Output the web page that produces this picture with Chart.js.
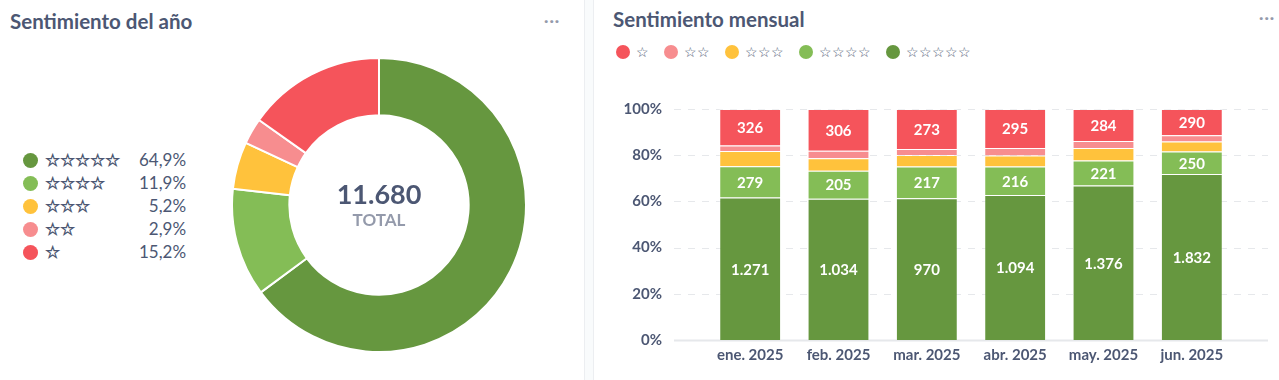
<!DOCTYPE html>
<html lang="es">
<head>
<meta charset="utf-8">
<script src="https://cdn.jsdelivr.net/npm/chart.js@4.4.0/dist/chart.umd.min.js"></script>
<style>
  html, body { margin: 0; padding: 0; }
  body {
    width: 1279px; height: 380px; overflow: hidden; position: relative;
    background: #f9fbfc; font-family: Lato, sans-serif; color: #4c5773;
  }
  .card { position: absolute; top: -2px; bottom: -2px; background: #fff; border: 1px solid #eceef1; box-sizing: border-box; }
  #cardYear { left: -2px; width: 587px; }
  #cardMonth { left: 593px; right: -2px; }
  .title { position: absolute; font-weight: 700; font-size: 20.5px; line-height: 24px; white-space: nowrap; }
  .more { position: absolute; color: #949aab; font-weight: 700; font-size: 16px; line-height: 10px; letter-spacing: 1px; }
  #legendYear { position: absolute; left: 23px; top: 148px; border-collapse: collapse; font-size: 17px; }
  #legendYear td { padding: 0; height: 23px; white-space: nowrap; }
  #legendYear .dot { display: inline-block; width: 15px; height: 15px; border-radius: 50%; vertical-align: -2px; margin-right: 7px; }
  #legendYear .stars { font-weight: 700; }
  #legendYear .pct { text-align: right; padding-left: 19px; }
  #legendMonth { position: absolute; left: 616px; top: 42px; height: 20px; display: flex; align-items: center; white-space: nowrap; }
  #legendMonth .item { display: flex; align-items: center; margin-right: 15px; }
  #legendMonth .dot { width: 14px; height: 14px; border-radius: 50%; margin-right: 6px; }
  #legendMonth .stars { font-size: 14.3px; line-height: 20px; }
  #donutBox { position: absolute; left: 231px; top: 57px; width: 296px; height: 296px; }
  #barBox { position: absolute; left: 594px; top: 80px; width: 685px; height: 300px; }
</style>
</head>
<body>
<div class="card" id="cardYear"></div>
<div class="card" id="cardMonth"></div>

<div class="title" style="left:10px; top:9px;">Sentimiento del año</div>
<div class="more" style="left:544px; top:15px;">···</div>
<div class="title" style="left:613px; top:7px;">Sentimiento mensual</div>
<div class="more" style="left:1259px; top:12px;">···</div>

<table id="legendYear"></table>
<div id="legendMonth"></div>
<div id="donutBox"><canvas id="donutChart"></canvas></div>
<div id="barBox"><canvas id="monthChart"></canvas></div>

<script>
// Months shown on the x axis
const months = ['ene. 2025', 'feb. 2025', 'mar. 2025', 'abr. 2025', 'may. 2025', 'jun. 2025'];

// Review counts per month, by star rating (2 and 3 stars)
const fiveStars  = [1271, 1034, 970, 1094, 1376, 1832];
const fourStars  = [279, 205, 217, 216, 221, 250];
const threeStars = [137, 90, 78, 82, 112, 108];
const twoStars   = [48, 55, 42, 56, 63, 70];
const oneStar    = [326, 306, 273, 295, 284, 290];

// Category names, best rating first
const ratingLabels = ['☆☆☆☆☆', '☆☆☆☆', '☆☆☆', '☆☆', '☆'];

// y axis tick values (percent)
const percentTicks = [0, 20, 40, 60, 80, 100];

const ratingSeries = [fiveStars, fourStars, threeStars, twoStars, oneStar];
const ratingColors = ['#66973f', '#84bd56', '#ffc23c', '#f78d8f', '#f5545b'];

const TEXT = '#4c5773';
const MUTED = '#949aab';

function fmtNum(n) {
  return String(n).replace(/\B(?=(\d{3})+(?!\d))/g, '.');
}

// yearly totals per rating, from the monthly counts
const yearTotals = ratingSeries.map(s => s.reduce((a, b) => a + b, 0));
const grandTotal = yearTotals.reduce((a, b) => a + b, 0);

// Left legend
const legendTable = document.getElementById('legendYear');
ratingLabels.forEach((lab, i) => {
  const tr = document.createElement('tr');
  const pct = (yearTotals[i] / grandTotal * 100).toFixed(1).replace('.', ',') + '%';
  tr.innerHTML = '<td><span class="dot" style="background:' + ratingColors[i] + '"></span>' +
                 '<span class="stars">' + lab + '</span></td>' +
                 '<td class="pct">' + pct + '</td>';
  legendTable.appendChild(tr);
});

// Right legend, worst rating first
const legendMonth = document.getElementById('legendMonth');
ratingLabels.slice().reverse().forEach((lab, k) => {
  const i = ratingLabels.length - 1 - k;
  const item = document.createElement('div');
  item.className = 'item';
  item.innerHTML = '<span class="dot" style="background:' + ratingColors[i] + '"></span>' +
                   '<span class="stars">' + lab + '</span>';
  legendMonth.appendChild(item);
});

// Center text for the donut
const centerText = {
  id: 'centerText',
  afterDraw(chart) {
    const { ctx, chartArea: a } = chart;
    const cx = (a.left + a.right) / 2;
    const cy = (a.top + a.bottom) / 2;
    ctx.save();
    ctx.textAlign = 'center';
    ctx.textBaseline = 'middle';
    ctx.fillStyle = TEXT;
    ctx.font = 'bold 27px Lato';
    ctx.fillText(fmtNum(grandTotal), cx, cy - 10);
    ctx.fillStyle = MUTED;
    ctx.font = 'bold 17px Lato';
    ctx.fillText('TOTAL', cx, cy + 16);
    ctx.restore();
  }
};

new Chart(document.getElementById('donutChart'), {
  type: 'doughnut',
  data: {
    labels: ratingLabels,
    datasets: [{
      data: yearTotals,
      backgroundColor: ratingColors,
      borderColor: '#fff',
      borderWidth: 2,
      hoverOffset: 0
    }]
  },
  options: {
    responsive: true,
    maintainAspectRatio: false,
    animation: false,
    cutout: '61%',
    layout: { padding: 0 },
    plugins: { legend: { display: false }, tooltip: { enabled: false } }
  },
  plugins: [centerText]
});

// Monthly stacked bars, normalised to 100%
const monthTotals = months.map((m, j) => ratingSeries.reduce((acc, s) => acc + s[j], 0));

// dashed grid that runs past the bars on both sides
const dashedGrid = {
  id: 'dashedGrid',
  beforeDatasetsDraw(chart) {
    const { ctx, chartArea: a, scales: { y } } = chart;
    ctx.save();
    y.ticks.forEach(t => {
      const py = Math.round(y.getPixelForValue(t.value)) + 0.5;
      ctx.beginPath();
      if (t.value === 0) {
        ctx.setLineDash([]);
        ctx.strokeStyle = '#e6e8eb';
        ctx.lineWidth = 2;
      } else {
        ctx.setLineDash([7, 7]);
        ctx.strokeStyle = '#e6e8eb';
        ctx.lineWidth = 1;
      }
      ctx.moveTo(a.left - 32, py);
      ctx.lineTo(a.right + 32, py);
      ctx.stroke();
    });
    ctx.restore();
  }
};

// count labels inside the taller segments
const barLabels = {
  id: 'barLabels',
  afterDatasetsDraw(chart) {
    const { ctx } = chart;
    ctx.save();
    ctx.textAlign = 'center';
    ctx.textBaseline = 'middle';
    ctx.font = 'bold 15px Lato';
    ctx.fillStyle = '#fff';
    chart.data.datasets.forEach((ds, i) => {
      chart.getDatasetMeta(i).data.forEach((bar, j) => {
        const h = Math.abs(bar.base - bar.y);
        if (h < 22) return;
        ctx.fillText(fmtNum(ds.counts[j]), bar.x, (bar.y + bar.base) / 2 + 1);
      });
    });
    ctx.restore();
  }
};

new Chart(document.getElementById('monthChart'), {
  type: 'bar',
  data: {
    labels: months,
    datasets: ratingSeries.map((s, i) => ({
      label: ratingLabels[i],
      data: s.map((v, j) => v / monthTotals[j] * 100),
      counts: s,
      backgroundColor: ratingColors[i],
      borderColor: 'rgba(255,255,255,0.35)',
      borderWidth: 1,
      barPercentage: 0.7,
      categoryPercentage: 1
    }))
  },
  options: {
    responsive: true,
    maintainAspectRatio: false,
    animation: false,
    layout: { padding: { left: 5, right: 43, top: 29, bottom: 10 } },
    plugins: {
      tooltip: { enabled: false },
      legend: { display: false }
    },
    scales: {
      x: {
        stacked: true,
        grid: { display: false, drawTicks: false },
        border: { display: false },
        ticks: { color: TEXT, padding: 6, font: { family: 'Lato', size: 15, weight: 'bold' } }
      },
      y: {
        stacked: true,
        min: 0,
        max: 100,
        afterBuildTicks(scale) {
          scale.ticks = percentTicks.map(v => ({ value: v }));
        },
        afterFit(scale) {
          scale.width = 107;
          scale.paddingTop = 0;
          scale.paddingBottom = 0;
        },
        grid: { display: false, drawTicks: false },
        border: { display: false },
        ticks: {
          color: TEXT,
          padding: 44,
          font: { family: 'Lato', size: 15, weight: 'bold' },
          callback: v => v + '%'
        }
      }
    }
  },
  plugins: [dashedGrid, barLabels]
});
</script>
</body>
</html>
